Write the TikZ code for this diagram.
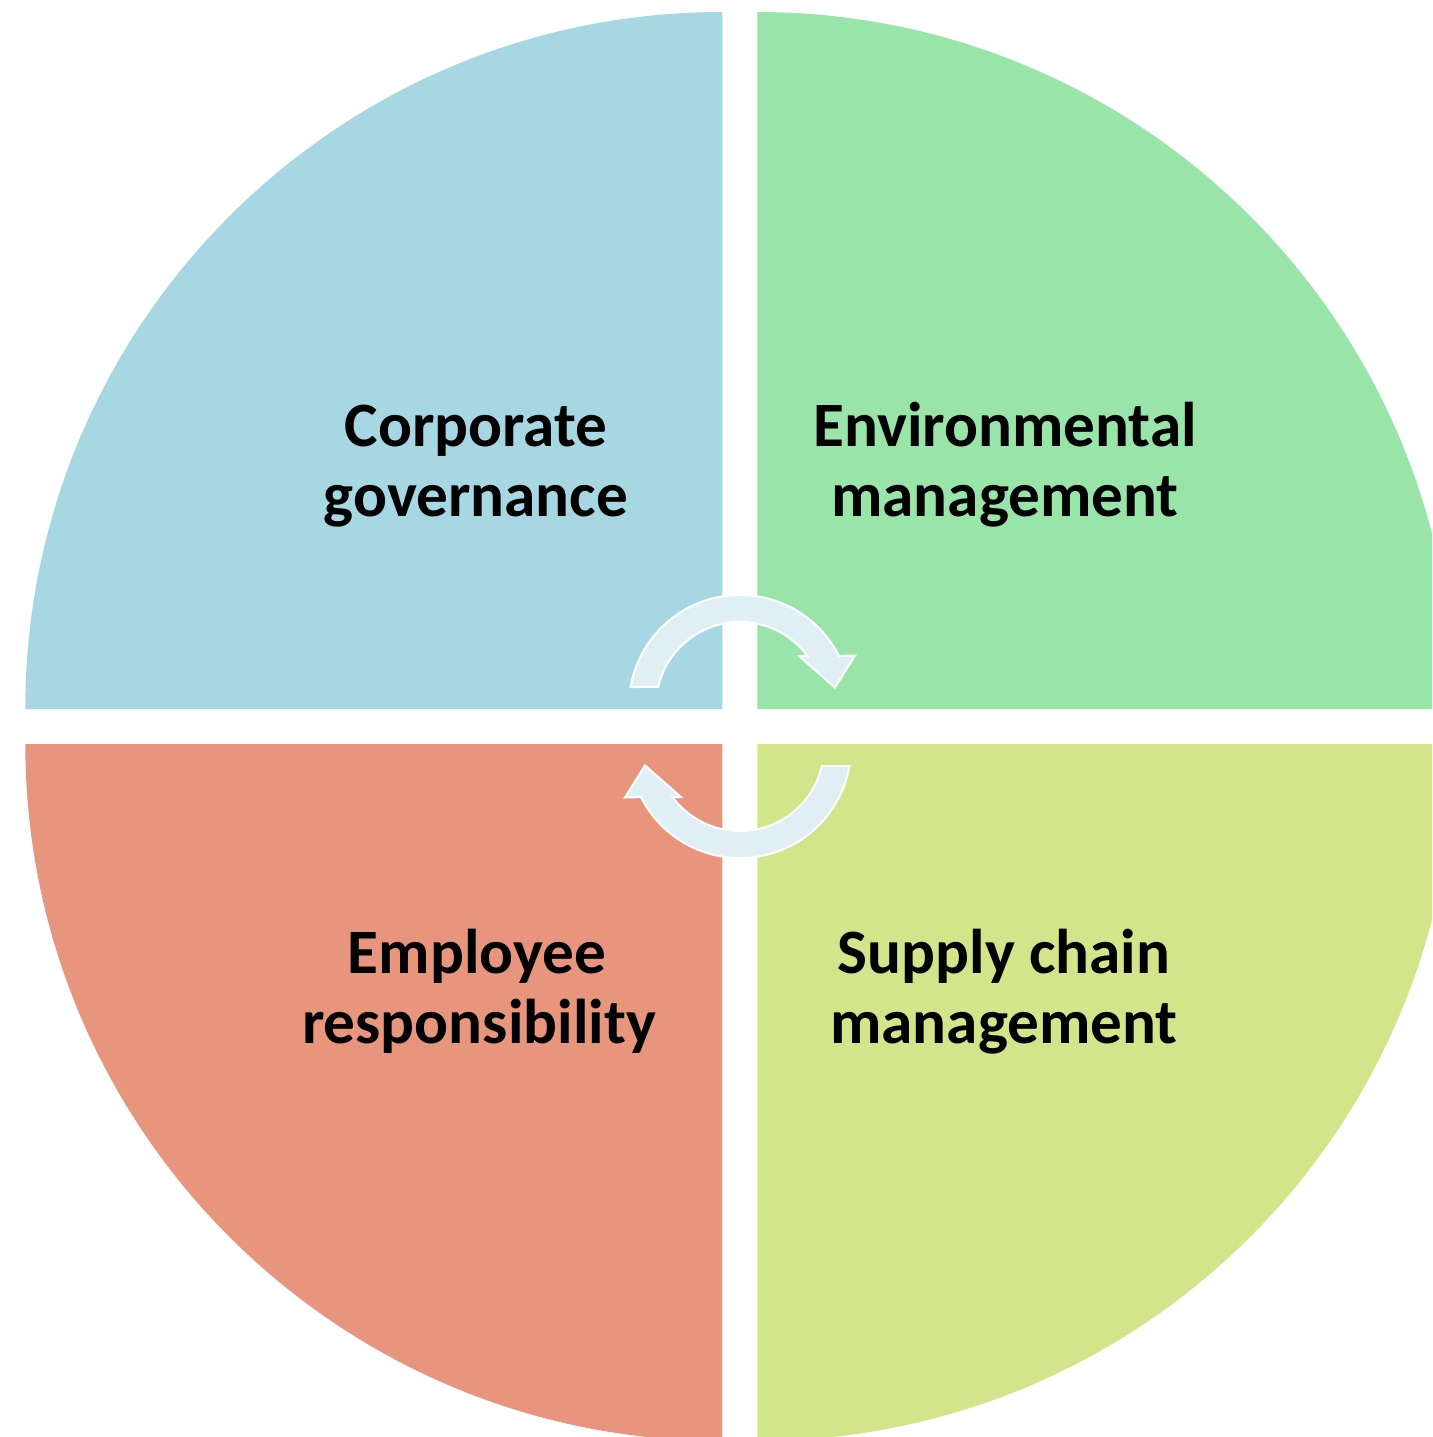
\documentclass[tikz,border=0pt]{standalone}
\usepackage{fontspec}
\setmainfont{Carlito}
\definecolor{qblue}{HTML}{A6D7E3}
\definecolor{qgreen}{HTML}{99E4A8}
\definecolor{qred}{HTML}{E8957E}
\definecolor{qyellow}{HTML}{D3E58B}
\definecolor{arrowfill}{HTML}{E0EFF4}
\begin{document}
\begin{tikzpicture}[x=0.5pt,y=-0.5pt,
  lbl/.style={inner sep=0pt,anchor=base,font=\fontsize{31.6}{37}\selectfont\bfseries,text=black},
  cyclearrow/.style={fill=arrowfill,draw=white,line width=1pt,line join=miter}]
\useasboundingbox (0,0) rectangle (1432,1437);
\clip (0,0) rectangle (1432,1437);
\fill[white] (0,0) rectangle (1432,1437);
% quadrants
\fill[qblue] (722.3,709) -- (25.3,709) arc[start angle=180,end angle=270,radius=697] -- cycle;
\fill[qgreen] (757.3,709) -- (757.3,12) arc[start angle=270,end angle=360,radius=697] -- cycle;
\fill[qred] (722.3,744) -- (25.3,744) arc[start angle=180,end angle=90,radius=697] -- cycle;
\fill[qyellow] (757.3,744) -- (1454.3,744) arc[start angle=0,end angle=90,radius=697] -- cycle;
% cycle arrows
\draw[cyclearrow] (630.6,687) arc[start angle=189.85,end angle=333.2,radius=111]
  -- (855,655.5) -- (835,687.5) -- (799,656) -- (807.5,656)
  arc[start angle=323.5,end angle=193.07,radius=84] -- cycle;
\begin{scope}[rotate around={180:(740,726.5)}]
\draw[cyclearrow] (630.6,687) arc[start angle=189.85,end angle=333.2,radius=111]
  -- (855,655.5) -- (835,687.5) -- (799,656) -- (807.5,656)
  arc[start angle=323.5,end angle=193.07,radius=84] -- cycle;
\end{scope}
% labels
\node[lbl] (cg1) at (476,446.7) {Corporate};
\node[lbl] (cg2) at (476,516) {governance};
\node[lbl] (em1) at (1005,446.7) {Environmental};
\node[lbl] (em2) at (1005,516) {management};
\node[lbl] (er1) at (477,973.3) {Employee};
\node[lbl] (er2) at (479,1043) {responsibility};
\node[lbl] (sc1) at (1004,973.3) {Supply chain};
\node[lbl] (sc2) at (1004,1043) {management};
\end{tikzpicture}
\end{document}
